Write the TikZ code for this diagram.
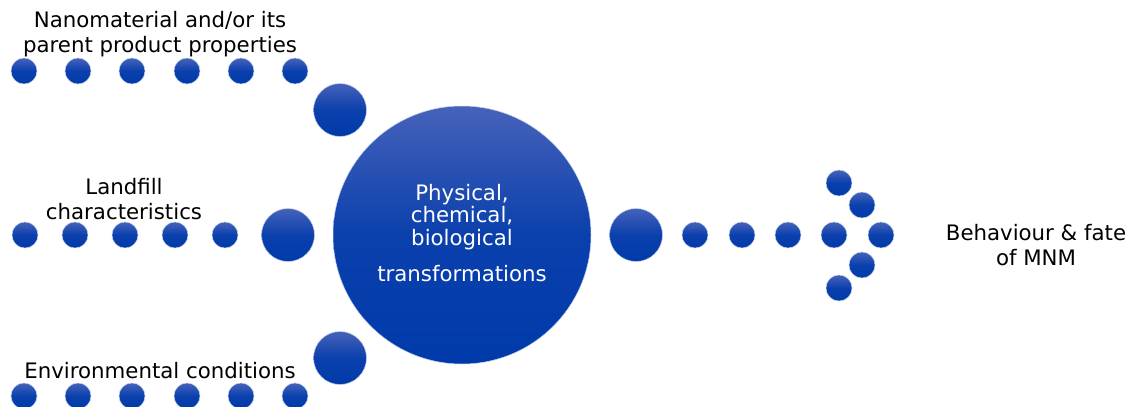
\documentclass[tikz,border=0pt]{standalone}
\usepackage{fontspec}
\setmainfont{DejaVu Sans}
\definecolor{dottop}{RGB}{70,98,186}
\definecolor{dotbot}{RGB}{0,58,170}
\definecolor{dotedge}{RGB}{190,205,235}
\begin{document}
\begin{tikzpicture}[x=1pt,y=-1pt,
  dot/.style={circle,inner sep=0pt,minimum size=26pt,top color=dottop,bottom color=dotbot,middle color=dotbot!85!dottop,draw=dotedge,line width=0.5pt},
  bigdot/.style={dot,minimum size=53pt},
  lbl/.style={align=center,font=\fontsize{21.3}{25}\selectfont,text=black,inner sep=0pt}]
\useasboundingbox (0,0) rectangle (1128,407);
% main circle
\node[dot,minimum size=258pt] (main) at (462,235) {};
\node[align=center,text=white,font=\fontsize{21.3}{22.5}\selectfont,inner sep=0pt] (mt) at (462,217) {Physical,\\chemical,\\biological};
\node[text=white,font=\fontsize{21.3}{22.5}\selectfont,inner sep=0pt] (mt2) at (462,274) {transformations};
% top row
\foreach \x [count=\i] in {24,78,132,187,241,295} \node[dot] (t\i) at (\x,71) {};
\node[bigdot] (tb) at (340,110) {};
% middle row
\foreach \x [count=\i] in {25,75,125,175,225} \node[dot] (m\i) at (\x,235) {};
\node[bigdot] (mb) at (288,235) {};
% bottom row
\foreach \x [count=\i] in {24,78,132,187,241,295} \node[dot] (b\i) at (\x,396) {};
\node[bigdot] (bb) at (340,358) {};
% right arrow
\node[bigdot] (rb) at (636,235) {};
\foreach \x [count=\i] in {695,742,788,834,881} \node[dot] (r\i) at (\x,235) {};
\node[dot] (h1) at (839,183) {};
\node[dot] (h2) at (862,205) {};
\node[dot] (h3) at (862,265) {};
\node[dot] (h4) at (839,288) {};
% labels
\node[lbl] (l1) at (160,34) {Nanomaterial and/or its\\parent product properties};
\node[lbl] (l2) at (124,199) {Landfill\\characteristics};
\node[lbl] (l3) at (160,371) {Environmental conditions};
\node[lbl] (l4) at (1036,245) {Behaviour \& fate\\of MNM};
\end{tikzpicture}
\end{document}
